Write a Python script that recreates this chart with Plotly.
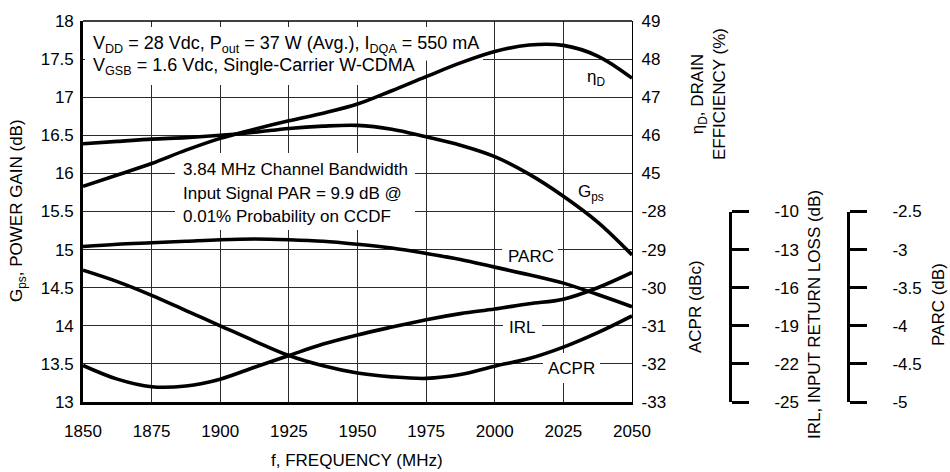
import plotly.graph_objects as go

# ---------------- data ----------------
freq = [1850, 1862.5, 1875, 1887.5, 1900, 1912.5, 1925, 1937.5, 1950,
        1962.5, 1975, 1987.5, 2000, 2012.5, 2025, 2037.5, 2050]

gps = [16.39, 16.42, 16.45, 16.47, 16.50, 16.54, 16.59, 16.62, 16.63,
       16.58, 16.48, 16.37, 16.22, 15.99, 15.70, 15.36, 14.93]

eff = [44.66, 44.96, 45.26, 45.61, 45.92, 46.16, 46.38, 46.58, 46.82,
       47.17, 47.54, 47.90, 48.20, 48.37, 48.36, 48.08, 47.50]

parc = [-2.96, -2.93, -2.91, -2.89, -2.87, -2.86, -2.87, -2.89, -2.93,
        -2.98, -3.05, -3.13, -3.23, -3.33, -3.44, -3.59, -3.75]

acpr = [-29.54, -29.84, -30.20, -30.60, -31.00, -31.40, -31.78, -32.05, -32.24,
        -32.34, -32.38, -32.28, -32.06, -31.86, -31.56, -31.18, -30.74]

irl = [-22.12, -23.20, -23.80, -23.74, -23.20, -22.26, -21.34, -20.44, -19.72,
       -19.10, -18.52, -18.04, -17.68, -17.26, -16.90, -16.00, -14.80]

x_ticks = [1850, 1875, 1900, 1925, 1950, 1975, 2000, 2025, 2050]
gain_ticks = [13, 13.5, 14, 14.5, 15, 15.5, 16, 16.5, 17, 17.5, 18]
eff_ticks = [45, 46, 47, 48, 49]
acpr_ticks = [-33, -32, -31, -30, -29, -28]
irl_ticks = [-25, -22, -19, -16, -13, -10]
parc_ticks = [-5, -4.5, -4, -3.5, -3, -2.5]

# ---------------- geometry (page pixels; body margin removed below) ----------------
W, H = 950, 472
PLOT_L, PLOT_R, PLOT_T, PLOT_B = 83, 632, 21, 402     # plot box in pixels
ML, MT, MR = PLOT_L, PLOT_T, 0
MB = H - PLOT_B
PW = W - ML - MR
PH = H - MT - MB


def px(x):
    return (x - PLOT_L) / PW


def py(y):
    return (PLOT_B - y) / PH


def dx(x):   # px -> frequency (for white boxes behind labels)
    return 1850 + (x - PLOT_L) * 200.0 / (PLOT_R - PLOT_L)


def dy(y):   # px -> gain
    return 18 - (y - PLOT_T) * 5.0 / (PLOT_B - PLOT_T)


FONT = "Liberation Sans, Arial, Helvetica, sans-serif"
BLACK = "#000000"
GRID = "#2a2a2a"
LW = 3.6

fig = go.Figure()


def curve(y, ax):
    fig.add_trace(go.Scatter(x=freq, y=y, mode="lines",
                             line=dict(color=BLACK, width=LW, shape="spline", smoothing=1.0),
                             xaxis="x", yaxis=ax, hoverinfo="skip"))


curve(gps, "y")
curve(eff, "y2")
curve(acpr, "y3")
curve(irl, "y4")
curve(parc, "y5")

# placeholders so the two bracket axes get drawn
for ax in ("y6", "y7"):
    fig.add_trace(go.Scatter(x=[None], y=[None], mode="lines", xaxis="x2", yaxis=ax,
                             hoverinfo="skip"))

tickfont = dict(family=FONT, size=17, color=BLACK)


def hy(vals):
    return [("%g" % v) for v in vals]


xdom = [0, (PLOT_R - PLOT_L) / PW]

fig.update_layout(
    width=W, height=H,
    margin=dict(l=ML, r=MR, t=MT, b=MB, pad=0, autoexpand=False),
    paper_bgcolor="white", plot_bgcolor="rgba(0,0,0,0)",
    showlegend=False,
    font=dict(family=FONT, size=17, color=BLACK),
    xaxis=dict(domain=xdom, range=[1850, 2050], tickvals=x_ticks,
               showgrid=True, gridcolor=GRID, gridwidth=1.2, zeroline=False,
               showline=True, linecolor=BLACK, linewidth=2.6, ticks="",
               tickfont=tickfont, ticklabelstandoff=12, anchor="y"),
    xaxis2=dict(domain=xdom, range=[1850, 2050], visible=False, anchor="y6"),
    yaxis=dict(domain=[0, 1], range=[13, 18], tickvals=gain_ticks, ticktext=hy(gain_ticks),
               showgrid=True, gridcolor=GRID, gridwidth=1.2, zeroline=False,
               showline=True, linecolor=BLACK, linewidth=2.6, ticks="",
               tickfont=tickfont, ticklabelstandoff=3, anchor="x"),
    yaxis2=dict(overlaying="y", range=[39, 49], tickvals=eff_ticks, ticktext=hy(eff_ticks),
                side="right", anchor="x", showgrid=False, zeroline=False,
                showline=True, linecolor=BLACK, linewidth=1.4, ticks="",
                tickfont=tickfont, ticklabelstandoff=5),
    yaxis3=dict(overlaying="y", range=[-33, -23], tickvals=acpr_ticks, ticktext=hy(acpr_ticks),
                side="right", anchor="x", showgrid=False, zeroline=False,
                showline=True, linecolor=BLACK, linewidth=1.4, ticks="",
                tickfont=tickfont, ticklabelstandoff=5),
    yaxis4=dict(overlaying="y", range=[-25, 5], visible=False),
    yaxis5=dict(overlaying="y", range=[-5, 0], visible=False),
    yaxis6=dict(domain=[0, 0.5], range=[-25, -10], tickvals=irl_ticks, ticktext=hy(irl_ticks),
                side="right", anchor="free", position=px(730), showgrid=False, zeroline=False,
                showline=True, linecolor=BLACK, linewidth=3, ticks="outside", ticklen=17,
                tickwidth=3, tickcolor=BLACK, tickfont=tickfont, ticklabelstandoff=22),
    yaxis7=dict(domain=[0, 0.5], range=[-5, -2.5], tickvals=parc_ticks, ticktext=hy(parc_ticks),
                side="right", anchor="free", position=px(848), showgrid=False, zeroline=False,
                showline=True, linecolor=BLACK, linewidth=3, ticks="outside", ticklen=17,
                tickwidth=3, tickcolor=BLACK, tickfont=tickfont, ticklabelstandoff=22),
)

# top border of the plot box
fig.add_shape(type="line", xref="x domain", yref="y domain", x0=0, x1=1, y0=1, y1=1,
              line=dict(color=BLACK, width=1.4))

# white boxes that hide the grid (but not the curves) behind the texts
boxes = [
    (85, 483, 27, 60.5),
    (85, 421, 60, 85),
    (175, 415, 153, 230),
    (502, 558, 244, 266),
    (503, 542, 318, 336),
    (543, 600, 353, 383),
]
for x0, x1, y0, y1 in boxes:
    fig.add_shape(type="rect", xref="x", yref="y", x0=dx(x0), x1=dx(x1), y0=dy(y1), y1=dy(y0),
                  fillcolor="white", line=dict(width=0), layer="between")

annots = []


def txt(text, x, y, xanchor="center", yanchor="middle", angle=0, align="center", size=17):
    annots.append(dict(text=text, x=px(x), y=py(y), xref="paper", yref="paper", showarrow=False,
                       xanchor=xanchor, yanchor=yanchor, textangle=angle, align=align,
                       font=dict(family=FONT, size=size, color=BLACK), borderpad=0))


# conditions text in top-left
txt("V<sub>DD</sub> = 28 Vdc, P<sub>out</sub> = 37 W (Avg.), I<sub>DQA</sub> = 550 mA", 92, 44,
    xanchor="left", size=18)
txt("V<sub>GSB</sub> = 1.6 Vdc, Single-Carrier W-CDMA", 92, 67, xanchor="left", size=18)

# middle block
txt("3.84 MHz Channel Bandwidth", 182, 169, xanchor="left")
txt("Input Signal PAR = 9.9 dB @", 182, 193, xanchor="left")
txt("0.01% Probability on CCDF", 182, 216.5, xanchor="left")

# curve labels
txt("η<sub>D</sub>", 596, 78)
txt("G<sub>ps</sub>", 591, 193)
txt("PARC", 531, 256)
txt("IRL", 522, 327)
txt("ACPR", 571, 368)

# axis titles
txt("G<sub>ps</sub>, POWER GAIN (dB)", 18, 211, angle=-90)
txt("f, FREQUENCY (MHz)", 357, 460)
txt("η<sub>D</sub>, DRAIN<br>EFFICIENCY (%)", 709, 94, angle=-90)
txt("ACPR (dBc)", 695, 307, angle=-90)
txt("IRL, INPUT RETURN LOSS (dB)", 814, 315, angle=-90)
txt("PARC (dB)", 938, 305, angle=-90)

fig.update_layout(annotations=annots)

fig.write_html(
    "out.html",
    config={"displayModeBar": False},
    post_script="document.body.style.margin='0';document.body.style.overflow='hidden';",
)
